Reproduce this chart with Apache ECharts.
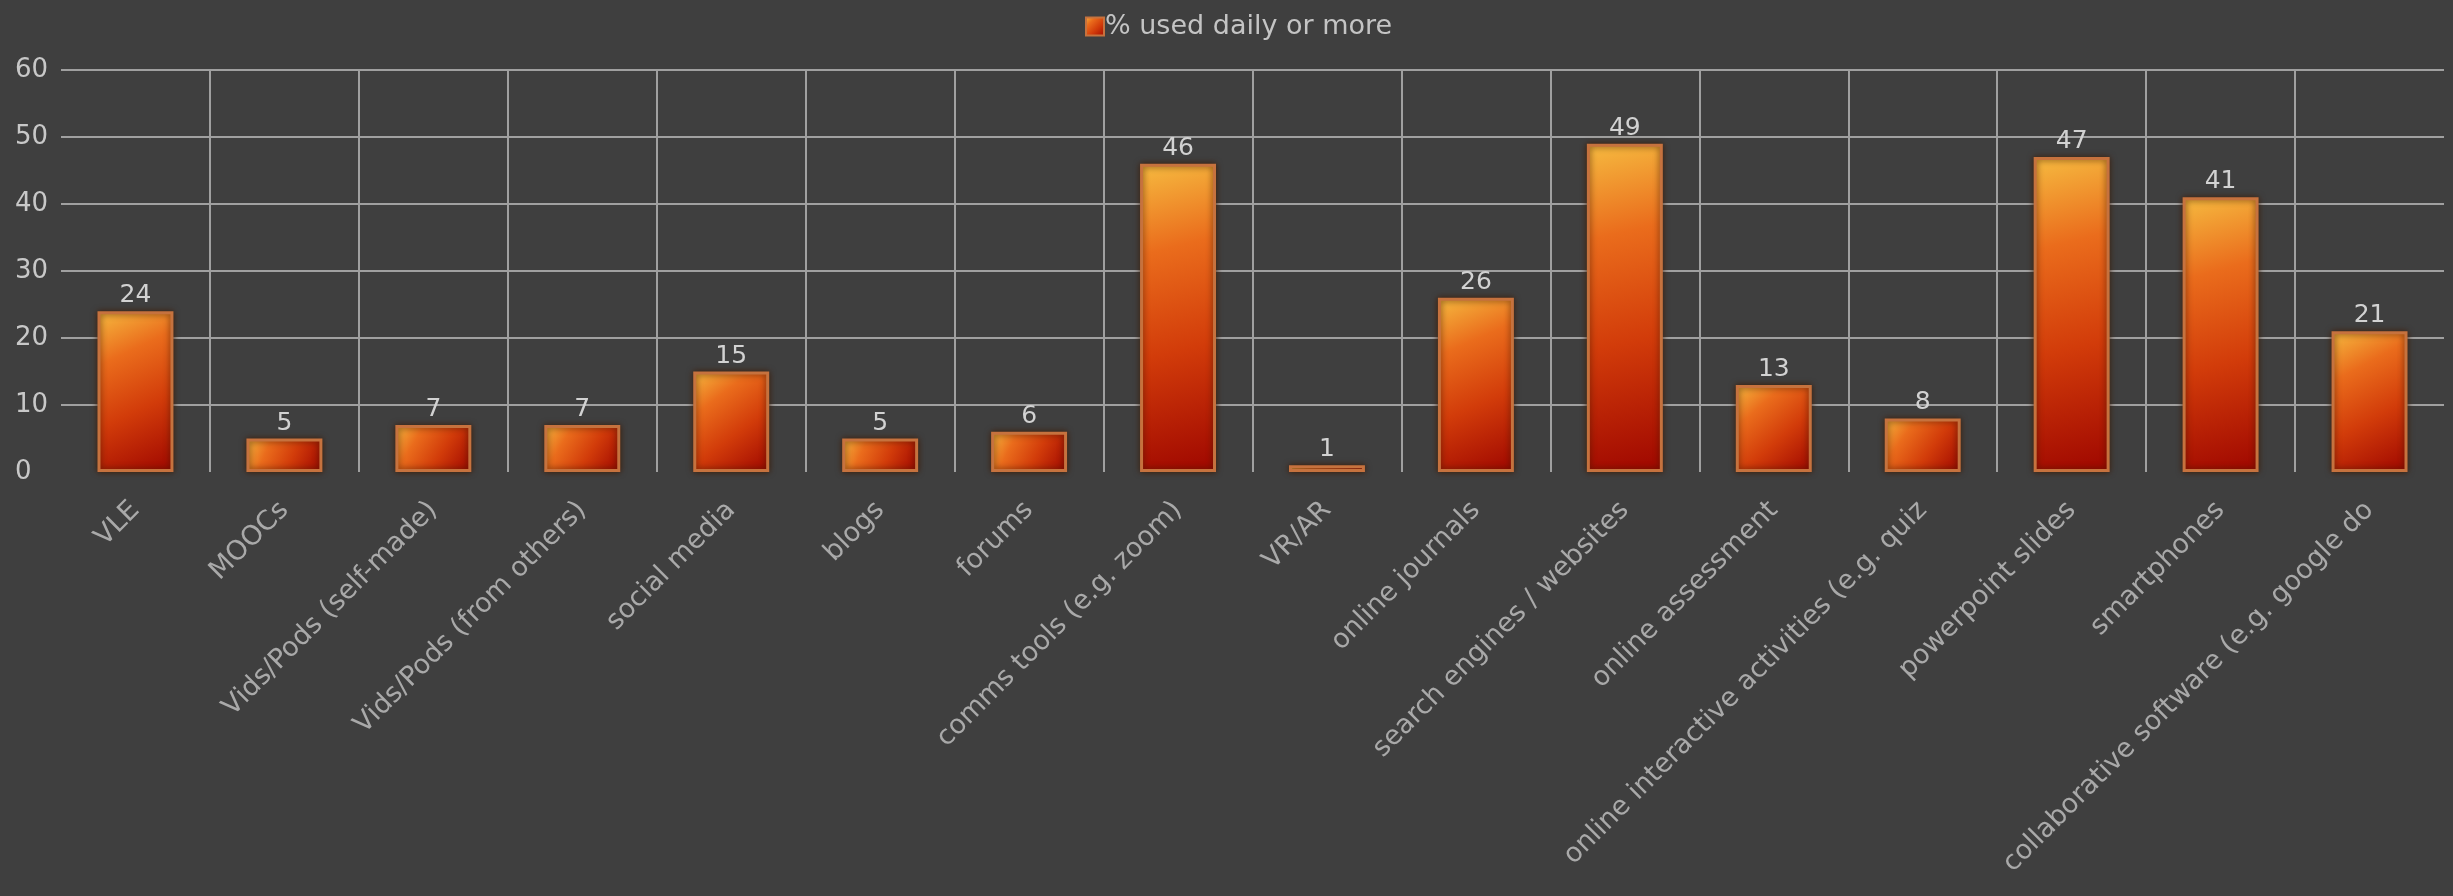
<!DOCTYPE html>
<html>
<head>
<meta charset="utf-8">
<title>% used daily or more</title>
<script src="https://cdn.jsdelivr.net/npm/echarts@6/dist/echarts.min.js"></script>
<style>
  html, body { margin: 0; padding: 0; background: #3f3f3f; }
  #chart { width: 2453px; height: 896px; }
</style>
</head>
<body>
<div id="chart"></div>
<script>
// Technologies surveyed
const categories = [
  'VLE',
  'MOOCs',
  'Vids/Pods (self-made)',
  'Vids/Pods (from others)',
  'social media',
  'blogs',
  'forums',
  'comms tools (e.g. zoom)',
  'VR/AR',
  'online journals',
  'search engines / websites',
  'online assessment',
  'online interactive activities (e.g. quiz',
  'powerpoint slides',
  'smartphones',
  'collaborative software (e.g. google do'
];

// Percentage of respondents using each one daily or more
const seriesName = '% used daily or more';
const dailyUse = [24, 5, 7, 7, 15, 5, 6, 46, 1, 26, 49, 13, 8, 47, 41, 21];

// Value axis range
const yMin = 0;
const yMax = 60;
const yStep = 10;

// Diagonal fill: light amber in the top-left corner down to deep red at bottom-right
const barFill = new echarts.graphic.LinearGradient(0, 0, 1, 1, [
  { offset: 0, color: '#f6bb40' },
  { offset: 0.28, color: '#ea6c1c' },
  { offset: 0.6, color: '#d23c0a' },
  { offset: 1, color: '#9e0600' }
]);

const gridColor = '#a0a0a0';

const chart = echarts.init(document.getElementById('chart'), null, { renderer: 'canvas' });

chart.setOption({
  backgroundColor: '#3f3f3f',
  animation: false,
  textStyle: { fontFamily: 'DejaVu Sans' },
  legend: {
    top: 8,
    left: 1080,
    itemWidth: 18,
    itemHeight: 18,
    itemGap: 10,
    data: [{ name: seriesName, icon: 'rect' }],
    textStyle: { color: '#c4c4c4', fontSize: 27, fontFamily: 'DejaVu Sans', padding: [0, 0, 0, -4] }
  },
  grid: { left: 61, right: 9, top: 70, bottom: 424 },
  xAxis: {
    type: 'category',
    data: categories,
    boundaryGap: true,
    axisLine: { show: false },
    axisTick: { show: false },
    axisLabel: {
      interval: 0,
      rotate: 45,
      margin: 34,
      color: '#a9a9a9',
      fontSize: 27,
      fontFamily: 'DejaVu Sans'
    },
    splitLine: {
      show: true,
      showMinLine: false,
      showMaxLine: false,
      lineStyle: { color: gridColor, width: 2 }
    }
  },
  yAxis: {
    type: 'value',
    min: yMin,
    max: yMax,
    interval: yStep,
    axisLine: { show: false },
    axisTick: { show: false },
    axisLabel: {
      align: 'left',
      margin: 46,
      color: '#c8c8c8',
      fontSize: 26,
      fontFamily: 'DejaVu Sans'
    },
    splitLine: {
      show: true,
      showMinLine: false,
      lineStyle: { color: gridColor, width: 2 }
    }
  },
  series: [{
    name: seriesName,
    type: 'bar',
    data: dailyUse,
    barWidth: '51%',
    itemStyle: {
      color: barFill,
      borderColor: '#c6723e',
      borderWidth: 3,
      shadowColor: 'rgba(60, 25, 0, 0.8)',
      shadowBlur: 6
    },
    label: {
      show: true,
      position: 'top',
      distance: 3,
      color: '#d2d2d2',
      fontSize: 25,
      fontFamily: 'DejaVu Sans'
    }
  }]
});
</script>
</body>
</html>
